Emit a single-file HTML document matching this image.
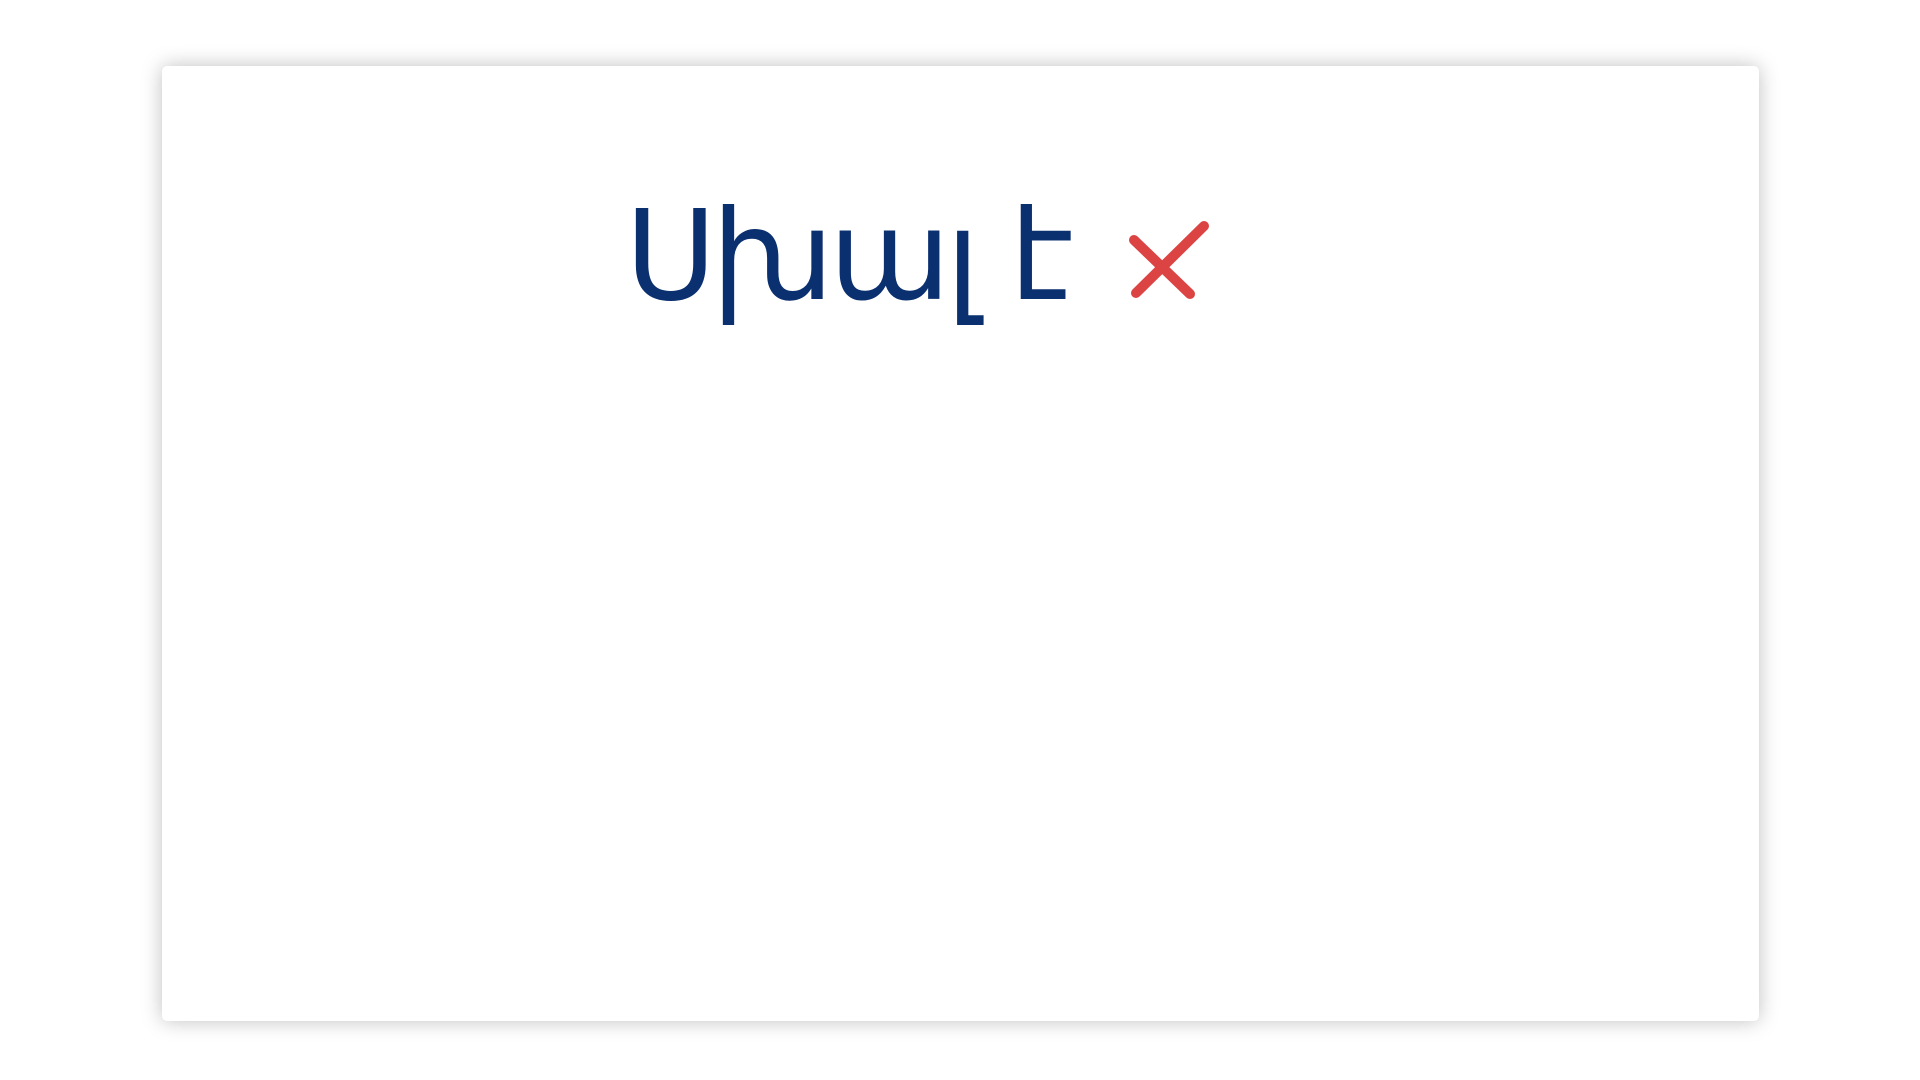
<!DOCTYPE html>
<html><head><meta charset="utf-8"><style>
html,body{margin:0;padding:0;width:1920px;height:1080px;background:#fff;overflow:hidden}
.card{position:absolute;left:162px;top:66px;width:1597px;height:955px;background:#fff;border-radius:5px;box-shadow:0 0 20px rgba(0,0,0,0.25)}
.t{position:absolute;left:625px;top:182px;font-family:"DejaVu Sans","Liberation Sans",sans-serif;font-size:125px;line-height:150px;color:#0b3070;white-space:nowrap;letter-spacing:-5px}
svg{position:absolute;left:1126px;top:216px}
</style></head><body>
<div class="card"></div>
<div class="t">Սխալ է</div>
<svg width="88" height="86" viewBox="0 0 88 86"><g stroke="#dc4343" stroke-width="10" stroke-linecap="round" fill="none"><line x1="8" y1="24" x2="64" y2="78"/><line x1="78" y1="10" x2="10" y2="77"/></g></svg>
</body></html>
